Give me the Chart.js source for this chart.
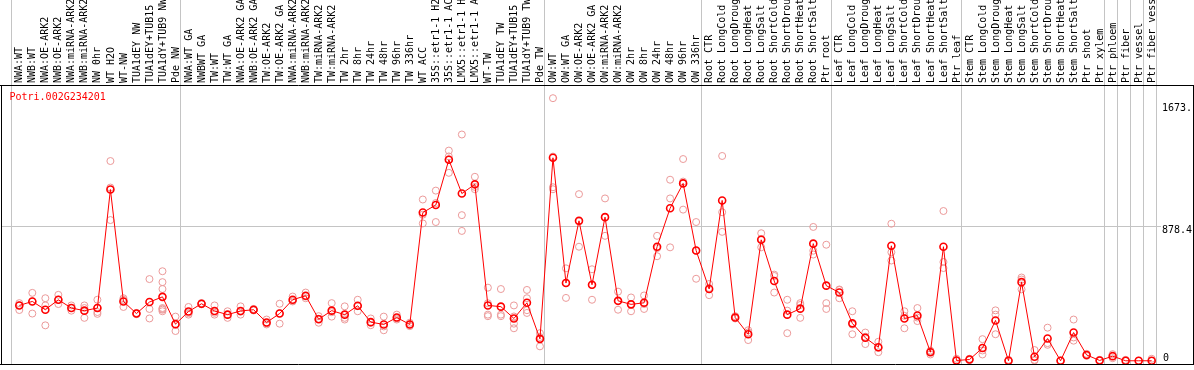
<!DOCTYPE html>
<html>
<head>
<meta charset="utf-8">
<script src="https://cdn.jsdelivr.net/npm/chart.js@4.4.1/dist/chart.umd.min.js"></script>
<style>
  html, body { margin: 0; padding: 0; background: #fff; }
  canvas { display: block; }
</style>
</head>
<body>
<canvas id="c" width="1194" height="370"></canvas>
<script>
const geneId = 'Potri.002G234201';

const categories = [
  'NWA:WT','NWB:WT','NWA:OE-ARK2','NWB:OE-ARK2','NWA:miRNA-ARK2','NWB:miRNA-ARK2','NW 0hr','WT H2O','WT-NW',
  'TUA1dEY NW','TUA1dEY+TUB15','TUA1dY+TUB9 NW','Pde NW',
  'NWA:WT GA','NWBWT GA','TW:WT','TW:WT GA','NWA:OE-ARK2 GA','NWB:OE-ARK2 GA','TW:OE-ARK2','TW:OE-ARK2 GA',
  'NWA:miRNA-ARK2','NWB:miRNA-ARK2','TW:miRNA-ARK2','TW:miRNA-ARK2','TW 2hr','TW 8hr','TW 24hr','TW 48hr',
  'TW 96hr','TW 336hr','WT ACC','35S::etr1-1 H2','35S::etr1-1 AC','LMX5::etr1-1 H','LMX5::etr1-1 A','WT-TW',
  'TUA1dEY TW','TUA1dEY+TUB15','TUA1dY+TUB9 TW','Pde TW',
  'OW:WT','OW:WT GA','OW:OE-ARK2','OW:OE-ARK2 GA','OW:miRNA-ARK2','OW:miRNA-ARK2','OW 2hr','OW 8hr','OW 24hr',
  'OW 48hr','OW 96hr','OW 336hr',
  'Root CTR','Root LongCold','Root LongDroug','Root LongHeat','Root LongSalt','Root ShortCold','Root ShortDrou',
  'Root ShortHeat','Root ShortSalt','Ptr root',
  'Leaf CTR','Leaf LongCold','Leaf LongDroug','Leaf LongHeat','Leaf LongSalt','Leaf ShortCold','Leaf ShortDrou',
  'Leaf ShortHeat','Leaf ShortSalt','Ptr leaf',
  'Stem CTR','Stem LongCold','Stem LongDroug','Stem LongHeat','Stem LongSalt','Stem ShortCold','Stem ShortDrou',
  'Stem ShortHeat','Stem ShortSalt','Ptr shoot','Ptr xylem',
  'Ptr phloem','Ptr fiber','Ptr vessel','Ptr fiber vess'
];

const means = [
  361, 387, 333, 398, 344, 327, 344, 1117, 387, 308, 383, 417, 239,
  321, 372, 325, 301, 325, 333, 250, 308, 398, 424, 271, 327, 301, 359, 252, 237, 282, 237,
  967, 1016, 1311, 1091, 1151, 361, 353, 276, 378, 143,
  1324, 507, 913, 496, 937, 391, 368, 378, 744, 995, 1157, 719,
  468, 1046, 282, 173, 789, 520, 301, 340, 764, 490,
  445, 244, 150, 88, 750, 276, 295, 56, 744, 2,
  8, 83, 263, 0, 513, 26, 145, 0, 184, 38, 2,
  30, 0, 0, 0
];

const replicates = [
  [376, 331, 361], [443, 308, 387], [408, 231, 361], [430, 370, 398], [361, 327, 344],
  [361, 280, 344], [398, 318, 344, 306], [1303, 918, 1130], [408, 351, 398], [308, 312, 304],
  [533, 338, 276], [584, 513, 468, 344, 323, 333, 338], [288, 194, 237],
  [351, 301, 311], [372, 376, 368], [361, 301, 313], [323, 280, 300], [355, 301, 320],
  [333, 338, 328], [269, 237, 244], [372, 242, 310], [419, 387, 390], [445, 408, 419],
  [291, 248, 274], [376, 288, 317], [355, 269, 280], [398, 323, 356], [276, 248, 232],
  [288, 199, 224], [301, 276, 269], [237, 248, 226], [1052, 896, 953], [1110, 905, 1029],
  [1371, 1333, 1226, 1314], [1476, 950, 847], [1200, 1119, 1134], [477, 301, 291, 375],
  [468, 301, 291], [361, 242, 212, 289], [462, 408, 312, 330], [180, 94, 155],
  [1713, 1132, 1119, 1332], [603, 410, 508], [1087, 744, 908], [597, 398, 493], [1059, 815, 937],
  [451, 333, 389], [413, 323, 368], [426, 338, 370], [815, 682, 735], [1181, 1059, 740],
  [1316, 986, 1169], [905, 535, 717],
  [501, 428, 475], [1336, 969, 841], [291, 276, 279], [199, 135, 185], [832, 740, 795],
  [562, 445, 553], [398, 327, 180], [376, 280, 364], [873, 718, 693], [757, 376, 338],
  [462, 408, 465], [323, 173, 236], [184, 109, 157], [124, 56, 84], [894, 708, 654],
  [323, 212, 293], [344, 259, 282], [66, 41, 61], [977, 644, 605], [13, 0],
  [13, 4, 7], [141, 41, 67], [329, 301, 173], [6, 0], [543, 466, 530], [70, 6, 2],
  [216, 115, 104], [0, 2], [269, 152, 131], [45, 32, 37], [6, 0],
  [17, 43], [6, 0], [0], [13, 0]
];

// index of the first category of each group (last entry closes the chart)
const groupStarts = [0, 13, 41, 53, 63, 73, 84, 85, 86, 87, 88];

const tickValues = [0, 878.4, 1673];
const tickLabels = ['0', '878.4', '1673.'];

const FONT = '10px "DejaVu Sans Mono", "Liberation Mono", monospace';

const meanPoints = means.map((v, i) => ({ x: i, y: v }));
const replicatePoints = [];
replicates.forEach((arr, i) => arr.forEach(v => replicatePoints.push({ x: i, y: v })));

const decorPlugin = {
  id: 'decor',
  beforeDraw(chart) {
    const ctx = chart.ctx;
    ctx.save();
    ctx.fillStyle = '#ffffff';
    ctx.fillRect(0, 0, chart.width, chart.height);
    ctx.restore();
  },
  beforeDatasetsDraw(chart) {
    const ctx = chart.ctx;
    const xs = chart.scales.x, ys = chart.scales.y;
    const area = chart.chartArea;
    ctx.save();
    ctx.strokeStyle = '#c4c4c4';
    ctx.lineWidth = 1;
    // group separators
    groupStarts.forEach(b => {
      const px = Math.round(xs.getPixelForValue(b - 0.5) - 2) + 0.5;
      ctx.beginPath();
      ctx.moveTo(px, 0);
      ctx.lineTo(px, area.bottom);
      ctx.stroke();
    });
    // middle gridline
    const gy = Math.round(ys.getPixelForValue(tickValues[1])) + 0.5;
    ctx.beginPath();
    ctx.moveTo(1, gy);
    ctx.lineTo(1161, gy);
    ctx.stroke();
    ctx.restore();
  },
  afterDatasetsDraw(chart) {
    const ctx = chart.ctx;
    const xs = chart.scales.x, ys = chart.scales.y;
    const area = chart.chartArea;
    ctx.save();
    // frame
    ctx.strokeStyle = '#000000';
    ctx.lineWidth = 1;
    const top = Math.round(area.top) + 0.5;
    const bot = Math.round(area.bottom) + 0.5;
    ctx.beginPath();
    ctx.moveTo(0, top); ctx.lineTo(chart.width, top);
    ctx.moveTo(0, bot); ctx.lineTo(chart.width, bot);
    ctx.moveTo(1.5, top); ctx.lineTo(1.5, bot);
    ctx.moveTo(chart.width - 0.5, top); ctx.lineTo(chart.width - 0.5, bot);
    ctx.stroke();

    // category labels (rotated, reading upward)
    ctx.font = FONT;
    ctx.fillStyle = '#000000';
    ctx.textAlign = 'left';
    ctx.textBaseline = 'middle';
    categories.forEach((lab, i) => {
      const px = xs.getPixelForValue(i);
      ctx.save();
      ctx.translate(px + 0.5, area.top - 2);
      ctx.rotate(-Math.PI / 2);
      ctx.fillText(lab, 0, 0);
      ctx.restore();
    });

    // gene id title
    ctx.fillStyle = '#ff0000';
    ctx.textBaseline = 'middle';
    ctx.fillText(geneId, 9.5, area.top + 12.5);

    // right axis labels
    ctx.fillStyle = '#000000';
    tickValues.forEach((v, k) => {
      const py = ys.getPixelForValue(v);
      if (v === 0) {
        ctx.textBaseline = 'alphabetic';
        ctx.fillText(tickLabels[k], 1163, py);
      } else {
        ctx.textBaseline = 'top';
        ctx.fillText(tickLabels[k], 1162, py - 0.5);
      }
    });
    ctx.restore();
  }
};

new Chart(document.getElementById('c'), {
  type: 'scatter',
  data: {
    datasets: [
      {
        label: 'mean',
        data: meanPoints,
        showLine: true,
        borderColor: '#ff0000',
        borderWidth: 1,
        pointRadius: 3.5,
        pointBorderWidth: 1.6,
        pointBorderColor: '#ff0000',
        pointBackgroundColor: 'rgba(0,0,0,0)',
        tension: 0,
        order: 0
      },
      {
        label: 'replicates',
        data: replicatePoints,
        showLine: false,
        pointRadius: 3.5,
        pointBorderWidth: 1,
        pointBorderColor: '#ec9a9a',
        pointBackgroundColor: 'rgba(0,0,0,0)',
        order: 1
      }
    ]
  },
  options: {
    responsive: false,
    animation: false,
    devicePixelRatio: 1,
    layout: { padding: { left: 12.8, right: 35.8, top: 85, bottom: 1 } },
    plugins: { legend: { display: false }, tooltip: { enabled: false }, title: { display: false } },
    scales: {
      x: { type: 'linear', min: -0.5, max: 87.5, display: false },
      y: { type: 'linear', min: -23.7, max: 1799, display: false }
    }
  },
  plugins: [decorPlugin]
});
</script>
</body>
</html>
